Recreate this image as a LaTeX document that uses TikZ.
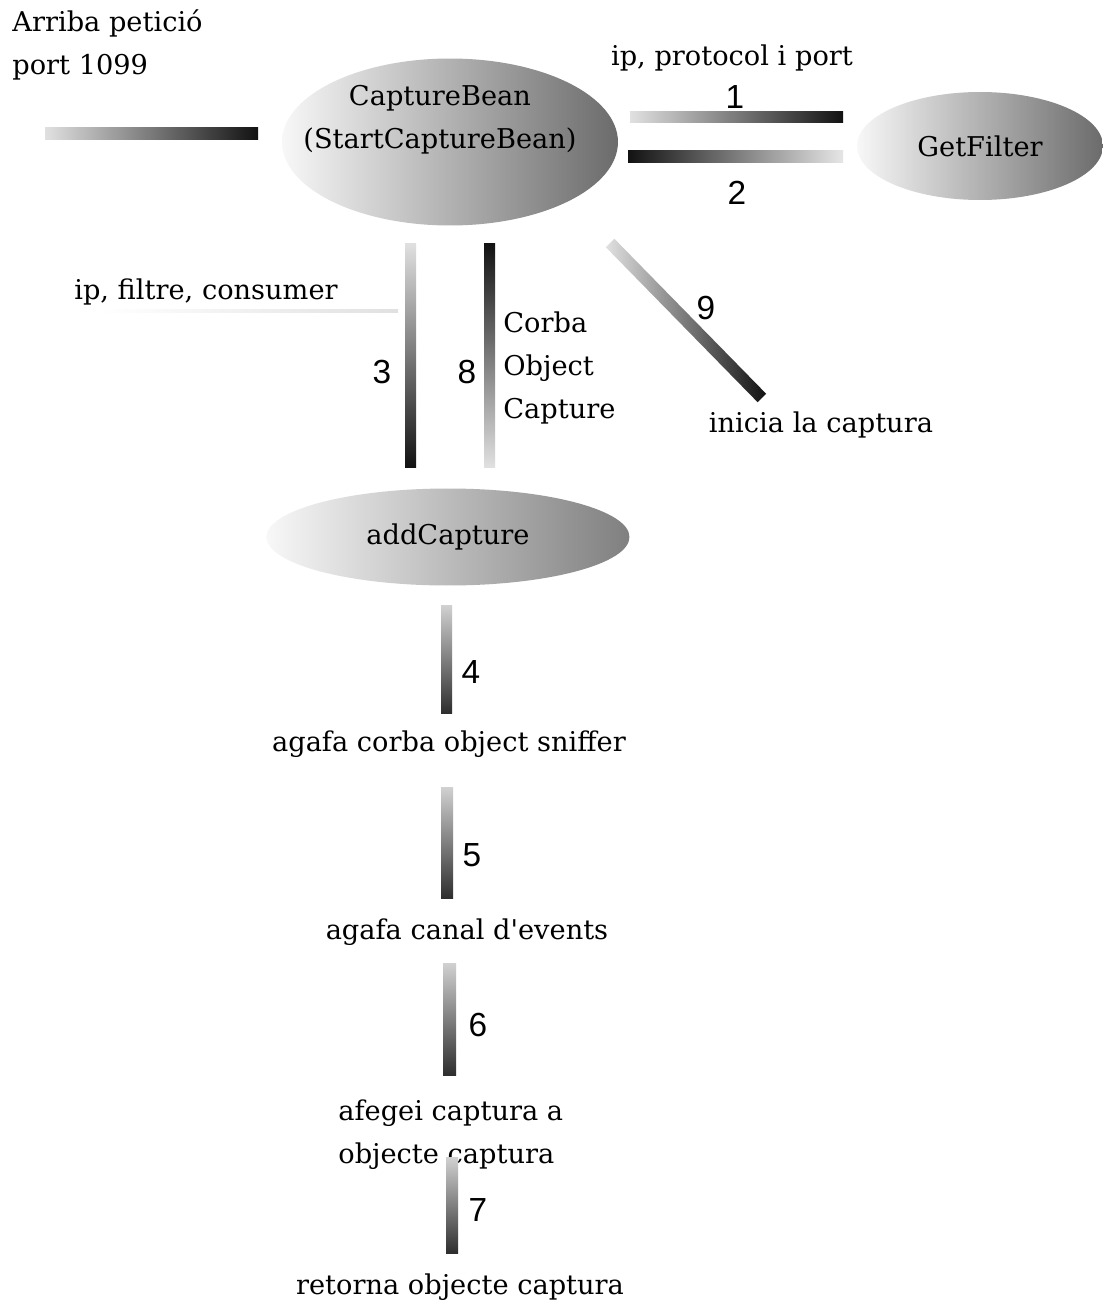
\documentclass[tikz,border=0pt]{standalone}
\usepackage{fontspec}
\setmainfont{DejaVu Serif}
\newfontfamily\numfont{Liberation Sans}
\usetikzlibrary{shapes.geometric}
\begin{document}
\begin{tikzpicture}[x=0.02cm,y=-0.02cm,
  every node/.style={inner sep=0pt, font=\fontsize{15.5}{24.5}\selectfont},
  num/.style={font=\numfont\fontsize{19}{22}\selectfont},
  oval/.style={ellipse, left color=black!3, right color=black!58, align=center},
  barLR/.style={left color=black!12, right color=black!93},
  barRL/.style={left color=black!93, right color=black!10},
  barTB/.style={top color=black!12, bottom color=black!93},
  barBT/.style={top color=black!93, bottom color=black!12},
  barsoft/.style={top color=black!18, bottom color=black!82}
]
\useasboundingbox[fill=white] (0,0) rectangle (1104,1308);

% ellipses
\node[oval, minimum width=6.72cm, minimum height=3.34cm] (cb) at (450,142) {};
\node[align=center] (cbt) at (440,120) {CaptureBean\\(StartCaptureBean)};
\node[oval, minimum width=4.92cm, minimum height=2.16cm] (gf) at (980,146) {GetFilter};
\node[oval, minimum width=7.26cm, minimum height=1.94cm, right color=black!50] (ac) at (448,537) {addCapture};

% texts
\node[anchor=north west, align=left] (arr) at (12,9) {Arriba petició\\port 1099};
\node (ipp) at (732,58) {ip, protocol i port};
\node (ipf) at (206,292) {ip, filtre, consumer};
\node[anchor=west, align=left] (cor) at (503,368) {Corba\\Object\\Capture};
\node (ini) at (821,425) {inicia la captura};
\node (sni) at (449,744) {agafa corba object sniffer};
\node (can) at (467,932) {agafa canal d\textquotesingle events};
\node[anchor=west, align=left] (afe) at (338,1135) {afegei captura a\\objecte captura};
\node (ret) at (460,1287) {retorna objecte captura};

% step numbers
\node[num] (n1) at (735,97) {1};
\node[num] (n2) at (737,193) {2};
\node[num] (n3) at (382,372) {3};
\node[num] (n8) at (467,372) {8};
\node[num] (n9) at (706,308) {9};
\node[num] (n4) at (471,672) {4};
\node[num] (n5) at (472,855) {5};
\node[num] (n6) at (478,1025) {6};
\node[num] (n7) at (478,1210) {7};

% bar end coordinates
\coordinate (b0a) at (45,128);   \coordinate (b0b) at (258,139);
\coordinate (b1a) at (630,112);  \coordinate (b1b) at (843,123);
\coordinate (b2a) at (628,150);  \coordinate (b2b) at (843,162);
\coordinate (b3a) at (405,243);  \coordinate (b3b) at (416,467);
\coordinate (b8a) at (484,243);  \coordinate (b8b) at (495,467);
\coordinate (b4a) at (441,605);  \coordinate (b4b) at (452,713);
\coordinate (b5a) at (441,787);  \coordinate (b5b) at (453,898);
\coordinate (b6a) at (443,963);  \coordinate (b6b) at (456,1075);
\coordinate (b7a) at (446,1157); \coordinate (b7b) at (458,1253);

% faint underline of ip, filtre, consumer
\path[left color=white, right color=black!12] (100,309) rectangle (398,312);

% gradient bars
\path[barLR] (b0a) rectangle (b0b);
\path[barLR] (b1a) rectangle (b1b);
\path[barRL] (b2a) rectangle (b2b);
\path[barTB] (b3a) rectangle (b3b);
\path[barBT] (b8a) rectangle (b8b);
\path[barsoft] (b4a) rectangle (b4b);
\path[barsoft] (b5a) rectangle (b5b);
\path[barsoft] (b6a) rectangle (b6b);
\path[barsoft] (b7a) rectangle (b7b);
\node[rotate=-45.6, minimum width=4.34cm, minimum height=0.24cm, left color=black!12, right color=black!93] (b9) at (686,320.5) {};
\end{tikzpicture}
\end{document}
